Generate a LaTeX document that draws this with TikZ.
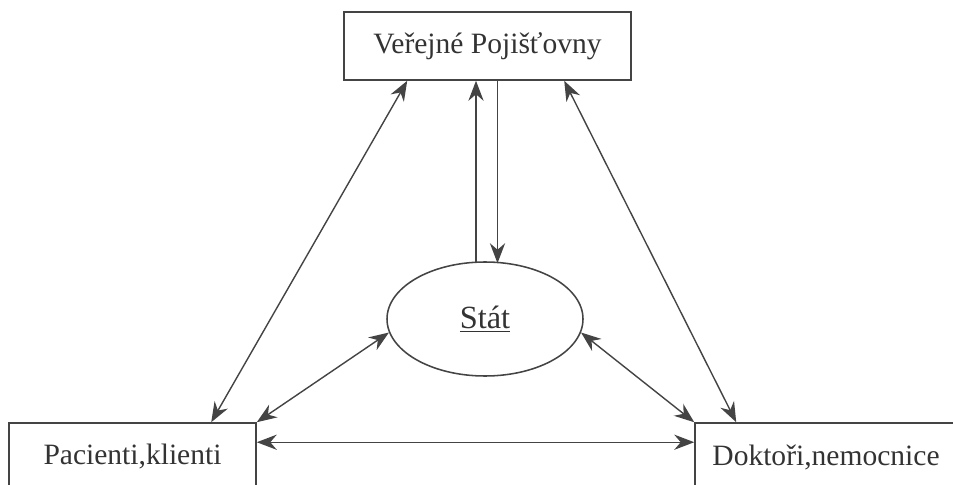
\documentclass[tikz,border=0pt]{standalone}
\usepackage{fontspec}
\setmainfont{Liberation Serif}
\usetikzlibrary{calc,arrows.meta,shapes.geometric}
\definecolor{linegray}{HTML}{444444}
\definecolor{textgray}{HTML}{333333}
\tikzset{box/.style={draw=linegray,line width=1.1pt,text=textgray,minimum height=68*0.025cm},
    link/.style={<->,draw=linegray,line width=1pt},
    oneway/.style={->,draw=linegray,line width=1pt}}

\begin{document}
\begin{tikzpicture}[x=0.025cm,y=-0.025cm,>={Stealth[length=5mm,width=3.8mm]},font=\fontsize{21}{24}\selectfont]
            \clip (0,0) rectangle (953,485);
            \node[box,minimum width=287*0.025cm] (vp) at (487.5,46) {Veřejné Pojišťovny};
            \node[box,minimum width=247*0.025cm] (pk) at (132.5,457) {Pacienti,klienti};
            \node[box,minimum width=262*0.025cm] (dn) at (826,457) {Doktoři,nemocnice};
            \node[draw=linegray,line width=1.1pt,ellipse,text=textgray,minimum width=196*0.025cm,minimum height=114*0.025cm,inner sep=0pt,font=\fontsize{23}{26}\selectfont] (stat) at (485,319) {\underline{Stát}};
            \draw[link] ($(vp.south west)+(64,0)$)--($(pk.north west)+(203,0)$);
            \draw[link] ($(vp.south west)+(221,0)$)--($(dn.north west)+(42,0)$);
            \draw[link] (stat.188)--(pk.north east);
            \draw[link] (stat.352)--(dn.north west);
            \draw[link] ($(pk.north east)+(0,20)$)--($(dn.north west)+(0,20)$);
            \coordinate (up) at ($(stat.north)+(-9,1)$);\draw[oneway] (up)--(up |- vp.south);
            \coordinate (down) at ($(vp.south)+(10,0)$);\draw[oneway] (down)--($(down |- stat.north)+(0,2)$);
        \end{tikzpicture}
\end{document}
